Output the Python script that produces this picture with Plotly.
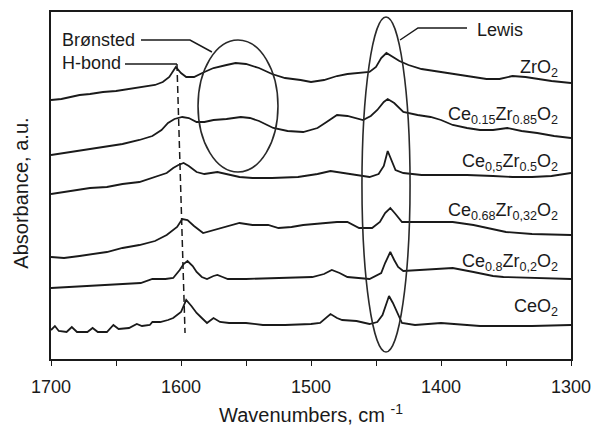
import plotly.graph_objects as go

# ---------------- data ----------------
zro2_wn = [1700,1692,1685,1678,1670,1660,1650,1640,1630,1620,1614,1609,1604,1600,1596,1590,1582,1575,1565,1558,1550,1540,1530,1520,1508,1500,1490,1480,1472,1462,1455,1450,1446,1442,1438,1432,1425,1415,1405,1395,1385,1375,1365,1355,1345,1335,1325,1315,1300]
zro2_ab = [2.59,2.60,2.62,2.64,2.65,2.67,2.68,2.70,2.72,2.74,2.77,2.82,2.92,2.86,2.82,2.82,2.87,2.91,2.94,2.96,2.95,2.91,2.85,2.81,2.79,2.77,2.79,2.83,2.85,2.86,2.87,2.92,3.01,3.06,3.03,2.98,2.94,2.90,2.88,2.86,2.84,2.82,2.80,2.80,2.83,2.82,2.80,2.78,2.76]

ce15_wn = [1700,1690,1680,1670,1657,1645,1632,1622,1615,1610,1605,1599,1594,1588,1582,1575,1565,1554,1547,1540,1529,1518,1506,1495,1488,1480,1472,1465,1460,1454,1449,1444,1441,1436,1429,1418,1408,1400,1391,1380,1370,1360,1349,1338,1326,1313,1300]
ce15_ab = [2.04,2.06,2.08,2.10,2.12,2.15,2.19,2.23,2.29,2.36,2.40,2.42,2.41,2.37,2.37,2.39,2.40,2.42,2.41,2.38,2.31,2.28,2.27,2.31,2.37,2.44,2.43,2.41,2.39,2.43,2.49,2.57,2.60,2.56,2.47,2.44,2.42,2.39,2.34,2.31,2.29,2.29,2.31,2.28,2.26,2.23,2.21]

ce50_wn = [1700,1690,1680,1670,1657,1645,1632,1622,1611,1606,1602,1598,1594,1588,1582,1572,1563,1555,1545,1530,1510,1495,1485,1475,1465,1455,1448,1444,1441,1438,1435,1429,1415,1400,1380,1360,1345,1330,1315,1300]
ce50_ab = [1.65,1.67,1.69,1.71,1.72,1.75,1.77,1.81,1.86,1.91,1.94,1.96,1.93,1.87,1.85,1.87,1.84,1.82,1.81,1.81,1.82,1.85,1.88,1.86,1.84,1.82,1.85,1.93,2.08,1.99,1.89,1.86,1.84,1.84,1.84,1.83,1.82,1.82,1.83,1.86]

ce68_wn = [1700,1690,1678,1668,1657,1645,1632,1620,1611,1603,1599,1595,1590,1583,1575,1562,1555,1545,1533,1525,1515,1506,1490,1480,1472,1463,1453,1447,1443,1439,1435,1430,1418,1408,1391,1375,1365,1350,1330,1300]
ce68_ab = [1.02,1.01,1.03,1.05,1.07,1.11,1.14,1.18,1.24,1.32,1.40,1.39,1.33,1.26,1.29,1.34,1.36,1.34,1.34,1.31,1.32,1.34,1.36,1.37,1.37,1.31,1.31,1.37,1.46,1.51,1.45,1.37,1.37,1.37,1.37,1.34,1.31,1.27,1.25,1.24]

ce80_wn = [1700,1685,1670,1655,1640,1631,1622,1612,1606,1601,1598,1595,1591,1588,1584,1580,1575,1572,1568,1564,1550,1530,1515,1499,1490,1484,1478,1472,1455,1446,1443,1439,1436,1433,1429,1418,1408,1391,1375,1360,1352,1330,1300]
ce80_ab = [0.71,0.72,0.73,0.74,0.75,0.76,0.80,0.80,0.81,0.89,0.95,0.98,0.93,0.87,0.82,0.80,0.83,0.84,0.82,0.80,0.80,0.81,0.81,0.82,0.85,0.89,0.86,0.82,0.80,0.86,0.96,1.07,0.99,0.92,0.88,0.89,0.90,0.91,0.87,0.83,0.82,0.81,0.80]

ceo2_wn = [1700,1697,1694,1688,1684,1680,1672,1668,1664,1657,1652,1648,1640,1634,1630,1624,1622,1616,1610,1606,1600,1596,1592,1588,1584,1580,1575,1570,1563,1550,1537,1520,1500,1493,1485,1480,1476,1465,1455,1449,1445,1440,1437,1434,1430,1420,1410,1400,1390,1370,1350,1330,1300]
ceo2_ab = [0.29,0.33,0.28,0.27,0.32,0.27,0.27,0.31,0.27,0.27,0.34,0.30,0.31,0.35,0.33,0.34,0.37,0.37,0.39,0.41,0.47,0.59,0.53,0.46,0.41,0.36,0.41,0.37,0.36,0.36,0.34,0.34,0.35,0.36,0.45,0.41,0.39,0.38,0.35,0.37,0.44,0.63,0.56,0.47,0.36,0.34,0.35,0.36,0.35,0.33,0.33,0.33,0.34]

series = [
    (zro2_wn, zro2_ab, "ZrO<sub>2</sub>", 2.91),
    (ce15_wn, ce15_ab, "Ce<sub>0.15</sub>Zr<sub>0.85</sub>O<sub>2</sub>", 2.44),
    (ce50_wn, ce50_ab, "Ce<sub>0,5</sub>Zr<sub>0.5</sub>O<sub>2</sub>", 1.97),
    (ce68_wn, ce68_ab, "Ce<sub>0.68</sub>Zr<sub>0,32</sub>O<sub>2</sub>", 1.48),
    (ce80_wn, ce80_ab, "Ce<sub>0.8</sub>Zr<sub>0,2</sub>O<sub>2</sub>", 0.97),
    (ceo2_wn, ceo2_ab, "CeO<sub>2</sub>", 0.52),
]
label_x = 1308.5

x_ticks = [1700, 1650, 1600, 1550, 1500, 1450, 1400, 1350, 1300]
x_ticktext = ["1700", "", "1600", "", "1500", "", "1400", "", "1300"]

# annotation guides (data coordinates)
bron_line_x = [1630.8, 1593.1, 1576.2]
bron_line_y = [3.19, 3.19, 3.07]
hbond_line_x = [1643.1, 1603.1]
hbond_line_y = [2.95, 2.95]
dash_x = [1603.1, 1596.9]
dash_y = [2.95, 0.26]
lewis_line_x = [1380.0, 1417.7, 1431.5]
lewis_line_y = [3.31, 3.31, 3.19]
bron_ellipse = dict(x0=1586.9, x1=1525.4, y0=1.87, y1=3.19)
lewis_ellipse = dict(x0=1460.8, x1=1423.8, y0=0.07, y1=3.42)

FONT = "Arial, Liberation Sans, sans-serif"
INK = "#1a1a1a"

fig = go.Figure()
for wn, ab, name, ly in series:
    fig.add_trace(go.Scatter(x=wn, y=ab, mode="lines", line=dict(color=INK, width=1.8),
                             showlegend=False, hoverinfo="skip"))
    fig.add_annotation(x=label_x, y=ly, xref="x", yref="y", text=name, showarrow=False,
                       xanchor="right", yanchor="middle", font=dict(family=FONT, size=18, color=INK))

for lx, ly, dash in [(bron_line_x, bron_line_y, "solid"), (hbond_line_x, hbond_line_y, "solid"),
                     (dash_x, dash_y, "7px,4px"), (lewis_line_x, lewis_line_y, "solid")]:
    fig.add_trace(go.Scatter(x=lx, y=ly, mode="lines", line=dict(color=INK, width=1.5, dash=dash),
                             showlegend=False, hoverinfo="skip"))

for e in (bron_ellipse, lewis_ellipse):
    fig.add_shape(type="circle", xref="x", yref="y", line=dict(color="#2a2a2a", width=1.6), **e)

fig.add_annotation(x=1633.8, y=3.19, text="Brønsted", showarrow=False, xanchor="right", yanchor="middle",
                   font=dict(family=FONT, size=18, color=INK))
fig.add_annotation(x=1644.6, y=2.96, text="H-bond", showarrow=False, xanchor="right", yanchor="middle",
                   font=dict(family=FONT, size=18, color=INK))
fig.add_annotation(x=1373.8, y=3.29, text="Lewis", showarrow=False, xanchor="left", yanchor="middle",
                   font=dict(family=FONT, size=18, color=INK))
fig.add_annotation(x=-0.0567, y=0.478, xref="paper", yref="paper", text="Absorbance, a.u.", textangle=-90,
                   xanchor="center", yanchor="middle",
                   showarrow=False, font=dict(family=FONT, size=20, color=INK))

fig.update_layout(
    width=596, height=426,
    margin=dict(l=51, r=25, t=12, b=67, autoexpand=False),
    paper_bgcolor="white", plot_bgcolor="white",
    font=dict(family=FONT, color=INK),
    xaxis=dict(range=[1700, 1300], showline=True, linecolor=INK, linewidth=1.5, mirror=True,
               ticks="outside", ticklen=5, tickcolor=INK, tickvals=x_ticks, ticktext=x_ticktext,
               tickfont=dict(size=18, family=FONT, color=INK), ticklabelstandoff=6,
               showgrid=False, zeroline=False, automargin=False,
               title=dict(text="Wavenumbers, cm <sup>-1</sup>", font=dict(size=20, family=FONT, color=INK), standoff=12)),
    yaxis=dict(range=[0, 3.47], showline=True, linecolor=INK, linewidth=1.5, mirror=True,
               showticklabels=False, ticks="", showgrid=False, zeroline=False, automargin=False),
)
fig.write_html("out.html")
